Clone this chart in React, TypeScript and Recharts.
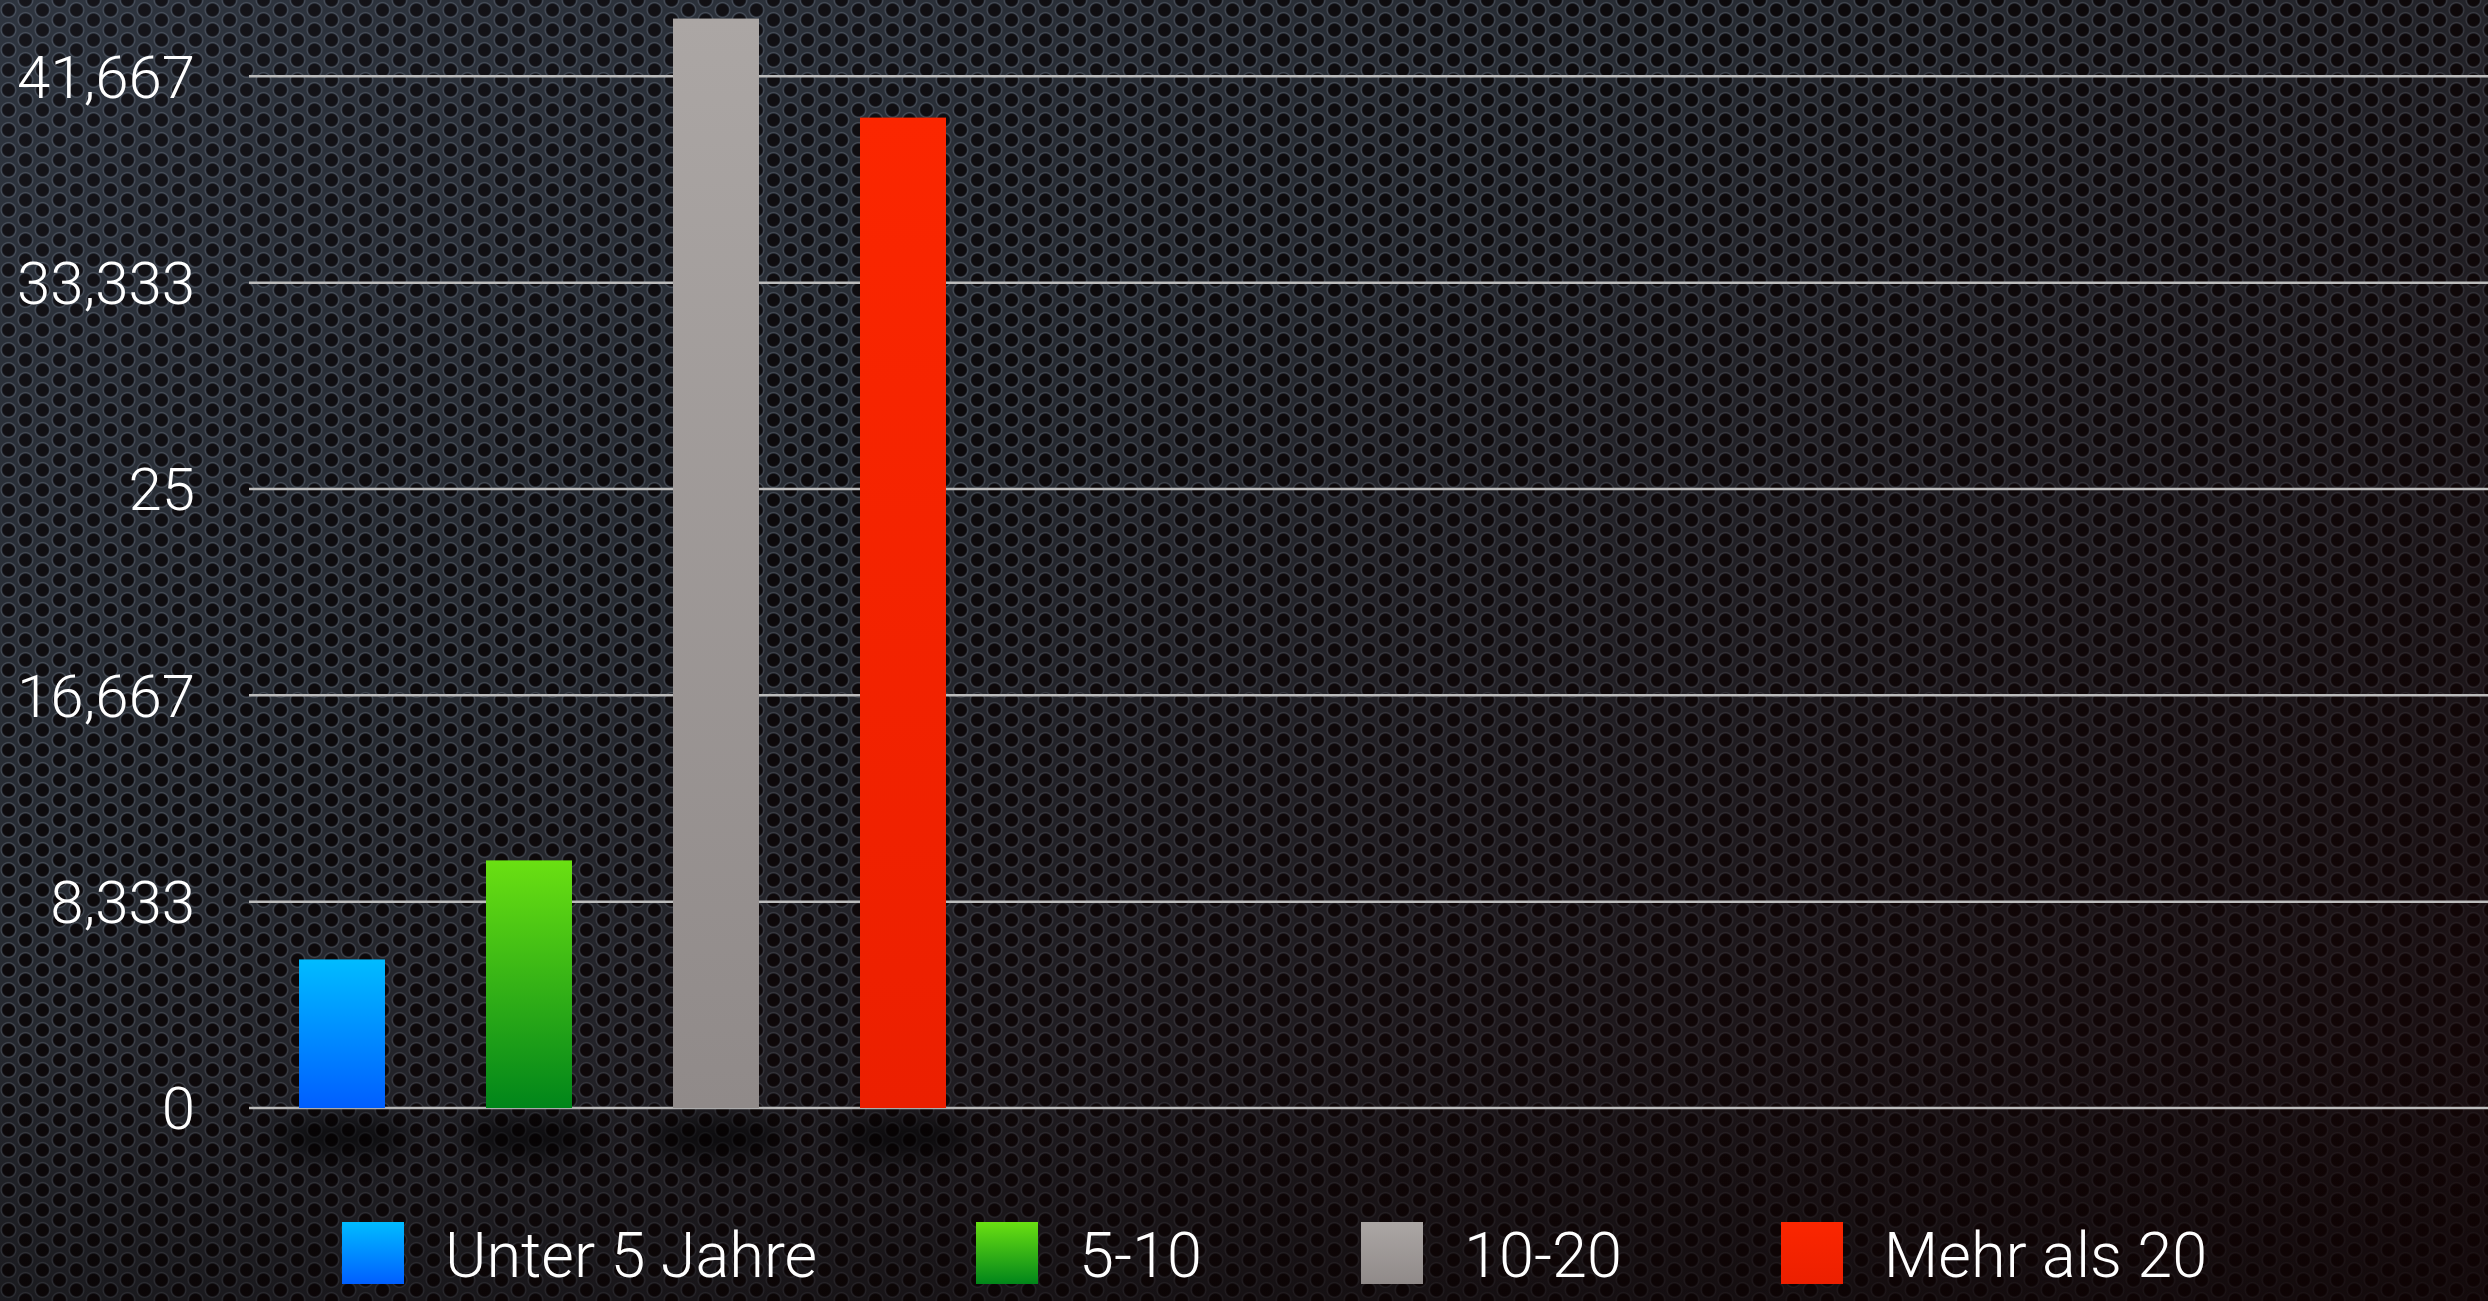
import React from "react";
import { Bar, BarChart, CartesianGrid, Legend, XAxis, YAxis } from "recharts";

const categories = ["Jahre"];
const seriesNames = ["Unter 5 Jahre", "5-10", "10-20", "Mehr als 20"];
const seriesValues = [6000, 10000, 44000, 40000];
const yTicks = [0, 8333.33, 16666.67, 25000, 33333.33, 41666.67];
const yTickLabels = ["0", "8,333", "16,667", "25", "33,333", "41,667"];

const gradients = [
  { id: "gBlue", top: "#00bcff", bottom: "#005eff" },
  { id: "gGreen", top: "#6ae012", bottom: "#00861a" },
  { id: "gGrey", top: "#aba6a4", bottom: "#908a89" },
  { id: "gRed", top: "#fb2600", bottom: "#ec1f00" },
];

const data = categories.map((name) => {
  const row: Record<string, string | number> = { name };
  seriesNames.forEach((s, i) => {
    row[`s${i}`] = seriesValues[i];
  });
  return row;
});

const W = 2488;
const H = 1301;
const CROP = 130; // chart is taller than the view, top part cut off

const font = "Roboto, 'Helvetica Neue', Arial, sans-serif";

const hole =
  "#0d0a0c 0, #0d0a0c 5.6px, #1c1e24 6.3px, #4e5560 7.3px, #30353d 8.3px, transparent 8.6px";

const bgStyle: React.CSSProperties = {
  position: "absolute",
  left: 0,
  top: 0,
  width: W,
  height: H,
  overflow: "hidden",
  backgroundColor: "#2a2f37",
  backgroundImage: [
    "linear-gradient(to bottom, rgba(0,0,0,0) 80%, rgba(0,0,0,0.25) 100%)",
    "linear-gradient(to bottom right, rgba(70,85,110,0.14) 0%, rgba(0,0,0,0.08) 35%, rgba(18,2,2,0.55) 75%, rgba(20,2,2,0.75) 100%)",
    `radial-gradient(circle at 8.5px 10px, ${hole})`,
    `radial-gradient(circle at 25.5px 0px, ${hole})`,
    `radial-gradient(circle at 25.5px 20px, ${hole})`,
  ].join(","),
  backgroundSize: "100% 100%, 100% 100%, 34px 20px, 34px 20px, 34px 20px",
};

function BarShape(props: any) {
  const { x, y, width, height, fill } = props;
  return (
    <g>
      <ellipse
        cx={x + width / 2}
        cy={y + height + 30}
        rx={width * 0.8}
        ry={18}
        fill="#000"
        opacity={0.6}
        filter="url(#shadowBlur)"
      />
      <rect x={x} y={y} width={width} height={height} fill={fill} />
    </g>
  );
}

function LegendContent() {
  return (
    <div style={{ display: "flex", alignItems: "center", fontFamily: font }}>
      {seriesNames.map((name, i) => (
        <div
          key={name}
          style={{ display: "flex", alignItems: "center", marginRight: 159 }}
        >
          <div
            style={{
              width: 62,
              height: 62,
              background: `linear-gradient(${gradients[i].top}, ${gradients[i].bottom})`,
              marginRight: 41,
            }}
          />
          <span
            style={{
              color: "#fff",
              fontSize: 63,
              fontWeight: 300,
              lineHeight: 1,
              whiteSpace: "nowrap",
              position: "relative",
              top: 3,
            }}
          >
            {name}
          </span>
        </div>
      ))}
    </div>
  );
}

export default function App() {
  return (
    <div style={bgStyle}>
      <BarChart
        width={W}
        height={H + CROP}
        data={data}
        margin={{ top: 0, right: 0, left: 0, bottom: H + CROP - (1108 + CROP) }}
        barSize={86}
        barGap={101}
        style={{ position: "absolute", left: 0, top: -CROP }}
      >
        <defs>
          {gradients.map((g) => (
            <linearGradient key={g.id} id={g.id} x1="0" y1="0" x2="0" y2="1">
              <stop offset="0%" stopColor={g.top} />
              <stop offset="100%" stopColor={g.bottom} />
            </linearGradient>
          ))}
          <filter id="shadowBlur" x="-50%" y="-100%" width="200%" height="300%">
            <feGaussianBlur stdDeviation="12" />
          </filter>
        </defs>
        <CartesianGrid vertical={false} stroke="#bcbcbc" strokeWidth={2.5} />
        <XAxis
          dataKey="name"
          hide
          padding={{ left: 0, right: W - 249 - 746 }}
        />
        <YAxis
          width={249}
          domain={[0, 50000]}
          ticks={yTicks}
          interval={0}
          axisLine={false}
          tickLine={false}
          tickSize={0}
          tickMargin={54}
          tick={{ fill: "#ffffff", fontSize: 60, fontFamily: font, fontWeight: 300 }}
          tickFormatter={(v: number) => yTickLabels[yTicks.indexOf(v)] ?? ""}
        />
        {seriesNames.map((name, i) => (
          <Bar
            key={name}
            dataKey={`s${i}`}
            name={name}
            fill={`url(#${gradients[i].id})`}
            shape={<BarShape />}
            isAnimationActive={false}
          />
        ))}
        <Legend
          verticalAlign="middle"
          align="center"
          content={<LegendContent />}
          wrapperStyle={{ top: 1221 + CROP, left: 342, width: "auto" }}
        />
      </BarChart>
    </div>
  );
}
